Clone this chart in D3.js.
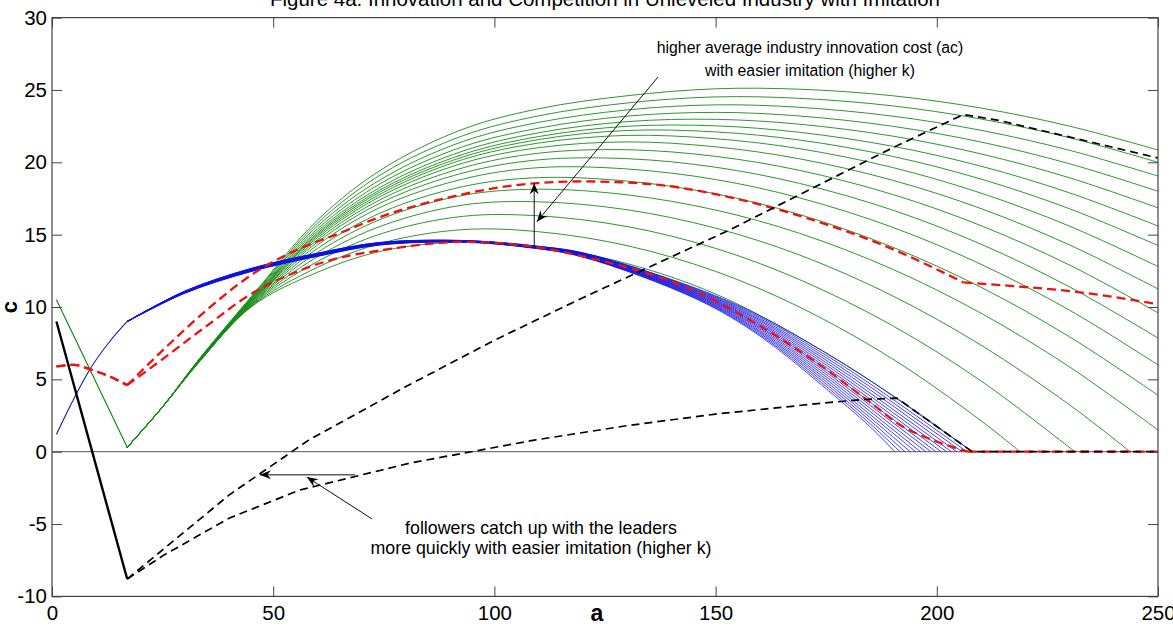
<!DOCTYPE html>
<html>
<head>
<meta charset="utf-8">
<script src="https://cdn.jsdelivr.net/npm/d3@7"></script>
<style>
  body { margin: 0; background: #fff; }
  svg { display: block; font-family: "Liberation Sans", Arial, sans-serif; }
</style>
</head>
<body>
<svg id="chart" width="1173" height="627"></svg>
<script>
// ---- data ----
const titleText = "Figure 4a. Innovation and Competition in Unleveled Industry with Imitation";
const xTicks = [0, 50, 100, 150, 200, 250];
const yTicks = [-10, -5, 0, 5, 10, 15, 20, 25, 30];

// green family (one row per k value), shared left leg then values on greenGrid
const greenHead = [[1, 10.5], [9, 5.4], [17, 0.3]];
const greenGrid = [25, 33, 45, 60, 75, 93, 110, 130, 150, 169, 190, 210, 230, 250];
const greenRows = [
  [3.1, 6.10, 10.00, 12.40, 13.90, 14.50, 14.20, 13.00, 10.90, 7.89, 3.90, null, null, null],
  [3.1, 6.11, 10.04, 12.74, 14.46, 15.35, 15.20, 14.24, 12.46, 9.99, 6.41, 2.14, null, null],
  [3.1, 6.12, 10.08, 13.14, 15.12, 16.27, 16.30, 15.56, 14.05, 11.89, 8.71, 4.89, null, null],
  [3.1, 6.14, 10.12, 13.47, 15.66, 17.05, 17.27, 16.72, 15.45, 13.59, 10.77, 7.36, 3.24, null],
  [3.1, 6.15, 10.16, 13.77, 16.15, 17.72, 18.14, 17.75, 16.70, 15.09, 12.61, 9.57, 5.86, 1.50],
  [3.1, 6.16, 10.20, 14.04, 16.60, 18.33, 18.94, 18.70, 17.82, 16.39, 14.14, 11.36, 7.94, 3.90],
  [3.1, 6.17, 10.25, 14.28, 17.00, 18.85, 19.63, 19.54, 18.81, 17.54, 15.51, 12.95, 9.78, 6.00],
  [3.1, 6.18, 10.29, 14.48, 17.30, 19.27, 20.17, 20.25, 19.66, 18.54, 16.70, 14.34, 11.39, 7.85],
  [3.1, 6.20, 10.33, 14.64, 17.54, 19.63, 20.63, 20.87, 20.41, 19.44, 17.78, 15.62, 12.90, 9.60],
  [3.1, 6.21, 10.37, 14.79, 17.76, 19.95, 21.01, 21.41, 21.07, 20.24, 18.76, 16.80, 14.29, 11.25],
  [3.1, 6.22, 10.41, 14.91, 17.93, 20.20, 21.33, 21.86, 21.63, 20.94, 19.64, 17.87, 15.59, 12.80],
  [3.1, 6.23, 10.45, 15.01, 18.09, 20.38, 21.57, 22.20, 22.10, 21.54, 20.41, 18.84, 16.79, 14.25],
  [3.1, 6.24, 10.49, 15.11, 18.23, 20.56, 21.78, 22.49, 22.52, 22.07, 21.11, 19.73, 17.89, 15.60],
  [3.1, 6.25, 10.53, 15.24, 18.41, 20.79, 22.04, 22.81, 22.97, 22.63, 21.81, 20.58, 18.93, 16.85],
  [3.1, 6.27, 10.57, 15.40, 18.66, 21.09, 22.36, 23.19, 23.45, 23.20, 22.49, 21.40, 19.90, 18.00],
  [3.1, 6.28, 10.62, 15.59, 18.94, 21.45, 22.76, 23.62, 23.97, 23.80, 23.19, 22.21, 20.83, 19.05],
  [3.1, 6.29, 10.66, 15.79, 19.27, 21.85, 23.21, 24.10, 24.52, 24.42, 23.90, 22.99, 21.70, 20.00],
  [3.1, 6.30, 10.70, 16.00, 19.60, 22.30, 23.70, 24.60, 25.08, 25.05, 24.60, 23.75, 22.50, 20.85]
];
const greenZero = [208, 218.8, 231.2, 243.7, null, null, null, null, null,
                   null, null, null, null, null, null, null, null, null];

// blue family
const blueHead = [[1, 1.2], [5, 3.7], [9, 5.9], [13, 7.6], [17, 9.0]];
const blueGrid = [30, 45, 60, 74, 93, 108, 120, 146, 160, 174, 185];
const blueRows = [
  [10.95, 12.45, 13.50, 14.28, 14.48, 14.10, 13.45, 10.50, 8.00, 4.60, 1.70],
  [10.96, 12.46, 13.51, 14.29, 14.49, 14.11, 13.47, 10.55, 8.09, 4.76, 1.91],
  [10.97, 12.48, 13.53, 14.30, 14.50, 14.12, 13.49, 10.60, 8.19, 4.92, 2.13],
  [10.98, 12.49, 13.54, 14.32, 14.50, 14.13, 13.51, 10.65, 8.28, 5.08, 2.34],
  [10.99, 12.51, 13.56, 14.33, 14.51, 14.14, 13.53, 10.70, 8.37, 5.24, 2.55],
  [11.00, 12.52, 13.57, 14.34, 14.52, 14.15, 13.55, 10.75, 8.47, 5.40, 2.77],
  [11.01, 12.54, 13.59, 14.35, 14.53, 14.16, 13.57, 10.80, 8.56, 5.56, 2.98],
  [11.02, 12.55, 13.60, 14.36, 14.54, 14.17, 13.59, 10.85, 8.65, 5.72, 3.19],
  [11.03, 12.57, 13.62, 14.38, 14.54, 14.18, 13.61, 10.90, 8.75, 5.88, 3.40],
  [11.04, 12.58, 13.63, 14.39, 14.55, 14.19, 13.63, 10.95, 8.84, 6.04, 3.62],
  [11.05, 12.60, 13.65, 14.40, 14.56, 14.20, 13.65, 11.00, 8.93, 6.20, 3.83],
  [11.06, 12.61, 13.66, 14.41, 14.57, 14.21, 13.67, 11.05, 9.03, 6.36, 4.04],
  [11.07, 12.63, 13.68, 14.43, 14.58, 14.22, 13.69, 11.10, 9.12, 6.52, 4.26],
  [11.08, 12.64, 13.69, 14.44, 14.58, 14.23, 13.71, 11.15, 9.21, 6.68, 4.47],
  [11.09, 12.66, 13.71, 14.45, 14.59, 14.24, 13.73, 11.20, 9.31, 6.84, 4.68],
  [11.10, 12.67, 13.72, 14.46, 14.60, 14.25, 13.75, 11.25, 9.40, 7.00, 4.90]
];
const blueZero = [190.5, 191.7, 192.8, 194.0, 195.2, 196.3, 197.5, 198.7,
                  199.8, 201.0, 202.2, 203.3, 204.5, 205.7, 206.8, 208.0];

// red dashed: average cost, low k and high k
const redLowA = [1, 5, 9, 13, 17, 25, 35, 45, 55, 65, 74, 93, 108, 120, 146, 160, 174, 185, 192, 200, 207, 250];
const redLowC = [5.9, 6.0, 5.65, 5.2, 4.6, 6.4, 8.7, 10.9, 12.4, 13.4, 13.9, 14.5, 14.2, 13.5, 11.0, 8.7, 5.9, 3.4, 1.8, 0.7, 0, 0];
const redHighA = [1, 5, 9, 13, 17, 25, 35, 45, 55, 65, 74, 90, 109, 120, 135, 153, 170, 190, 206, 215, 230, 250];
const redHighC = [5.9, 6.0, 5.65, 5.2, 4.6, 7.0, 9.8, 12.2, 13.9, 15.1, 16.2, 17.6, 18.55, 18.68, 18.5, 17.6, 16.2, 14.0, 11.7, 11.5, 11.1, 10.2];
const redLowKinks = [17, 207];
const redHighKinks = [17, 206];

// black: followers
const blackHead = [[1, 9.0], [17, -8.8]];
const blackHighA = [17, 40, 58, 80, 100, 119, 153, 190, 206, 214, 250];
const blackHighC = [-8.8, -3.0, 0.8, 4.5, 7.7, 10.5, 15.3, 21.0, 23.3, 22.9, 20.3];
const blackLowA = [17, 25, 40, 56, 81, 109, 130, 150, 174, 183, 191, 208, 250];
const blackLowC = [-8.8, -7.2, -4.6, -2.65, -0.78, 0.8, 1.8, 2.6, 3.35, 3.6, 3.7, 0, 0];

// annotations
const noteTop = ["higher average industry innovation cost (ac)", "with easier imitation (higher k)"];
const noteBottom = ["followers catch up with the leaders", "more quickly with easier imitation (higher k)"];

// ---- drawing ----
const svg = d3.select("#chart");
const plotL = 52, plotR = 1158, plotT = 17.6, plotB = 596.4;

const x = d3.scaleLinear().domain([0, 250]).range([plotL, plotR]);
const y = d3.scaleLinear().domain([-10, 30]).range([plotB, plotT]);

const defs = svg.append("defs");
defs.append("clipPath").attr("id", "plotClip")
    .append("rect")
    .attr("x", plotL).attr("y", plotT)
    .attr("width", plotR - plotL).attr("height", plotB - plotT);
defs.append("marker")
    .attr("id", "head")
    .attr("viewBox", "-12 -6 13 12")
    .attr("refX", 0).attr("refY", 0)
    .attr("markerWidth", 13).attr("markerHeight", 12)
    .attr("markerUnits", "userSpaceOnUse")
    .attr("orient", "auto")
    .append("path")
    .attr("d", "M0,0 L-11,-4.5 L-7.5,0 L-11,4.5 Z")
    .attr("fill", "#000");

const smooth = d3.line()
    .x(d => x(d[0])).y(d => y(d[1]))
    .curve(d3.curveCatmullRom.alpha(0.5));
const mono = d3.line()
    .x(d => x(d[0])).y(d => y(d[1]))
    .curve(d3.curveMonotoneX);
const straight = d3.line()
    .x(d => x(d[0])).y(d => y(d[1]));

// split a series at its corner points so the smoothing keeps the corners sharp
function pieces(pts, kinks) {
    let out = [], cur = [];
    pts.forEach(function (p) {
        cur.push(p);
        if (kinks.indexOf(p[0]) >= 0) { out.push(cur); cur = [p]; }
    });
    if (cur.length > 1) out.push(cur);
    return out;
}

// zero line
svg.append("line")
    .attr("x1", plotL).attr("x2", plotR)
    .attr("y1", y(0)).attr("y2", y(0))
    .attr("stroke", "#555").attr("stroke-width", 1);

const plot = svg.append("g").attr("clip-path", "url(#plotClip)");

// green curves
plot.append("path")
    .attr("d", straight(greenHead))
    .attr("fill", "none").attr("stroke", "#0a800a").attr("stroke-width", 1.1);
greenRows.forEach(function (row, i) {
    let pts = [greenHead[greenHead.length - 1]];
    row.forEach(function (c, k) {
        if (c !== null) pts.push([greenGrid[k], c]);
    });
    if (greenZero[i] !== null) pts.push([greenZero[i], 0]);
    plot.append("path")
        .attr("d", smooth(pts))
        .attr("fill", "none")
        .attr("stroke", "#168a16")
        .attr("stroke-width", 0.9);
});

// blue curves
plot.append("path")
    .attr("d", smooth(blueHead))
    .attr("fill", "none").attr("stroke", "#1818b0").attr("stroke-width", 1.1);
blueRows.forEach(function (row, j) {
    let pts = [blueHead[blueHead.length - 1]];
    row.forEach(function (c, k) { pts.push([blueGrid[k], c]); });
    pts.push([blueZero[j], 0]);
    plot.append("path")
        .attr("d", smooth(pts))
        .attr("fill", "none")
        .attr("stroke", "#1010e0")
        .attr("stroke-width", 0.8);
});

// red dashed
[[redLowA, redLowC, redLowKinks], [redHighA, redHighC, redHighKinks]].forEach(function (s) {
    pieces(d3.zip(s[0], s[1]), s[2]).forEach(function (part) {
        plot.append("path")
            .attr("d", mono(part))
            .attr("fill", "none")
            .attr("stroke", "#f01010")
            .attr("stroke-width", 2.3)
            .attr("stroke-dasharray", "9,5");
    });
});

// black
plot.append("path")
    .attr("d", straight(blackHead))
    .attr("fill", "none").attr("stroke", "#000").attr("stroke-width", 2.4);
[[blackHighA, blackHighC], [blackLowA, blackLowC]].forEach(function (s) {
    plot.append("path")
        .attr("d", straight(d3.zip(s[0], s[1])))
        .attr("fill", "none")
        .attr("stroke", "#000")
        .attr("stroke-width", 1.7)
        .attr("stroke-dasharray", "8,5");
});

// annotation arrows
function arrow(a0, c0, a1, c1) {
    svg.append("line")
        .attr("x1", x(a0)).attr("y1", y(c0))
        .attr("x2", x(a1)).attr("y2", y(c1))
        .attr("stroke", "#111").attr("stroke-width", 1)
        .attr("marker-end", "url(#head)");
}
arrow(137, 25.9, 109.6, 15.9);
arrow(109, 14.2, 109, 18.55);
arrow(68.5, -1.6, 47, -1.6);
arrow(72.3, -4.64, 57.6, -1.75);

svg.append("text")
    .attr("x", 810).attr("y", 53)
    .attr("text-anchor", "middle")
    .attr("font-size", 15.8)
    .selectAll("tspan").data(noteTop).enter().append("tspan")
    .attr("x", 810).attr("dy", (d, i) => i === 0 ? 0 : 23)
    .text(d => d);
svg.append("text")
    .attr("x", 541).attr("y", 534)
    .attr("text-anchor", "middle")
    .attr("font-size", 17.8)
    .selectAll("tspan").data(noteBottom).enter().append("tspan")
    .attr("x", 541).attr("dy", (d, i) => i === 0 ? 0 : 20)
    .text(d => d);

// axes: box with inward ticks
const axisColor = "#444";
function styleAxis(g) {
    g.select(".domain").remove();
    g.selectAll(".tick line").attr("stroke", axisColor);
    g.selectAll(".tick text").attr("fill", "#000")
        .attr("font-size", 20.5)
        .attr("font-family", "'Liberation Sans', Arial, sans-serif");
}
const plain = d => String(d);
svg.append("g").attr("transform", "translate(0," + plotB + ")")
    .call(d3.axisBottom(x).tickValues(xTicks).tickSize(-10).tickPadding(9).tickFormat(plain))
    .call(styleAxis);
svg.append("g").attr("transform", "translate(0," + plotT + ")")
    .call(d3.axisTop(x).tickValues(xTicks).tickSize(-10).tickFormat(""))
    .call(styleAxis);
svg.append("g").attr("transform", "translate(" + plotL + ",0)")
    .call(d3.axisLeft(y).tickValues(yTicks).tickSize(-10).tickPadding(5).tickFormat(plain))
    .call(styleAxis);
svg.append("g").attr("transform", "translate(" + plotR + ",0)")
    .call(d3.axisRight(y).tickValues(yTicks).tickSize(-10).tickFormat(""))
    .call(styleAxis);
svg.append("rect")
    .attr("x", plotL).attr("y", plotT)
    .attr("width", plotR - plotL).attr("height", plotB - plotT)
    .attr("fill", "none").attr("stroke", axisColor).attr("stroke-width", 1.2);

// labels
svg.append("text")
    .attr("x", (plotL + plotR) / 2).attr("y", 6)
    .attr("text-anchor", "middle").attr("font-size", 20.5)
    .text(titleText);
svg.append("text")
    .attr("x", 597).attr("y", 621)
    .attr("text-anchor", "middle").attr("font-size", 23).attr("font-weight", "bold")
    .text("a");
svg.append("text")
    .attr("transform", "translate(17,307) rotate(-90)")
    .attr("text-anchor", "middle").attr("font-size", 22).attr("font-weight", "bold")
    .text("c");
</script>
</body>
</html>
